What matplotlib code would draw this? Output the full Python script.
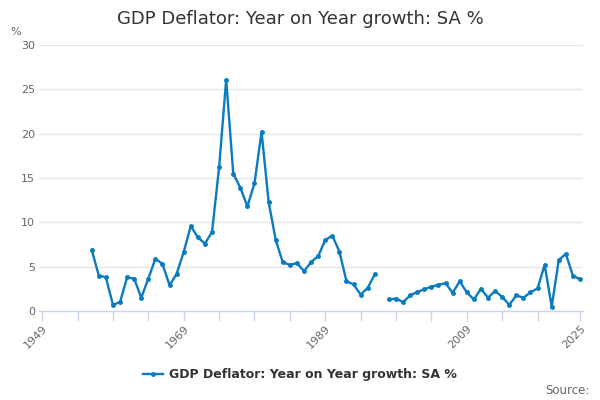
import numpy as np
import matplotlib
matplotlib.use('Agg')
import matplotlib.pyplot as plt

# ── Data ──
years = list(range(1956, 2026))
growth = [
    6.9, 4.0, 3.8, 0.7, 1.0, 3.8, 3.65, 1.5, 3.65, 5.9,
    5.3, 2.9, 4.2, 6.65, 9.6, 8.3, 7.6, 8.9, 16.2, 26.1,
    15.5, 13.9, 11.8, 14.4, 20.2, 12.3, 8.0, 5.5, 5.2, 5.4,
    4.5, 5.5, 6.2, 8.0, 8.5, 6.7, 3.35, 3.0, 1.85, 2.6,
    4.15, np.nan, 1.3, 1.4, 1.0, 1.75, 2.15, 2.45, 2.75, 2.95,
    3.15, 2.05, 3.35, 2.1, 1.3, 2.5, 1.5, 2.25, 1.6, 0.7,
    1.75, 1.5, 2.1, 2.55, 5.2, 0.5, 5.75, 6.45, 3.95, 3.6,
]
y_ticks = [0, 5, 10, 15, 20, 25, 30]
x_labels = [1949, 1969, 1989, 2009, 2025]
x_minor = [1954, 1959, 1964, 1974, 1979, 1984, 1994, 1999, 2004, 2014, 2019]

title = 'GDP Deflator: Year on Year growth: SA %'
line_color = '#0a7bc1'
text_color = '#333333'
axis_color = '#ccd6eb'

fig = plt.figure(figsize=(6, 4), dpi=100)
ax = fig.add_axes([0.065, 0.2225, 0.907, 0.665])

ax.plot(years, growth, '-o', color=line_color, linewidth=1.7,
        markersize=2.5, label=title)

ax.set_xlim(1948.55, 2025.45)
ax.set_ylim(0, 30)
ax.set_yticks(y_ticks)
ax.set_yticklabels([str(v) for v in y_ticks], color='#666666', fontsize=8)
ax.yaxis.grid(True, color='#e6e6e6', linewidth=1)
ax.set_axisbelow(True)
ax.tick_params(axis='y', length=0, pad=3)

ax.set_xticks(x_labels)
ax.set_xticklabels([str(v) for v in x_labels], rotation=45, ha='right',
                   rotation_mode='anchor', color='#666666', fontsize=8)
ax.set_xticks(x_minor, minor=True)
ax.tick_params(axis='x', which='both', length=7, color=axis_color, width=1, pad=2)

for side in ['top', 'right', 'left']:
    ax.spines[side].set_visible(False)
ax.spines['bottom'].set_color(axis_color)
ax.spines['bottom'].set_linewidth(1)

fig.text(0.5, 0.953, title, ha='center', va='center', fontsize=13, color=text_color)
fig.text(0.017, 0.92, '%', ha='left', va='center', fontsize=8, color='#666666')

leg = fig.legend(loc='center', bbox_to_anchor=(0.5, 0.064), frameon=False,
                 fontsize=9, handlelength=1.6, handletextpad=0.5)
for t in leg.get_texts():
    t.set_color(text_color)
    t.set_fontweight('bold')

fig.text(0.982, 0.025, 'Source:', ha='right', va='center', fontsize=8.5, color='#666666')

plt.savefig('out.png', dpi=100)
plt.close()
